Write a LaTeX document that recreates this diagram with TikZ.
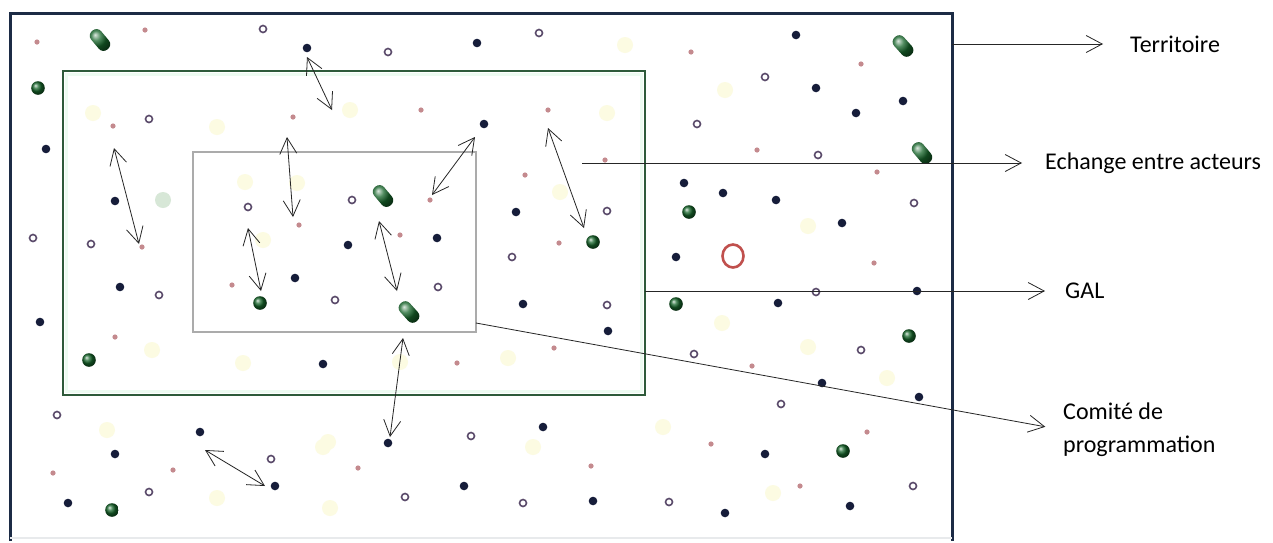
\documentclass[tikz,border=0pt]{standalone}
\usepackage{fontspec}
\setmainfont{Carlito}
\usepackage{xcolor}
\usepackage{tikz}
\usetikzlibrary{arrows.meta,positioning}
\definecolor{terr}{HTML}{1C2B45}
\definecolor{galgreen}{HTML}{2E5A3A}
\definecolor{galmint}{HTML}{EDFBF1}
\definecolor{comgray}{HTML}{ABABAB}
\definecolor{navy}{HTML}{161D3A}
\definecolor{hollowc}{HTML}{5A4A6A}
\definecolor{pinkd}{HTML}{C48A8E}
\definecolor{blobY}{HTML}{FCFBE2}
\definecolor{redring}{HTML}{C0504D}
\definecolor{greenb}{HTML}{17662B}

\begin{document}
\begin{tikzpicture}[x=1pt,y=-1pt,
  lbl/.style={anchor=west,inner sep=0pt,font=\fontsize{24}{33}\selectfont,align=left},
  conn/.style={draw=black!85,line width=0.8pt,{Straight Barb[length=16pt,width=17pt]}-{Straight Barb[length=16pt,width=17pt]}},
  lead/.style={draw=black!85,line width=0.8pt,-{Straight Barb[length=16pt,width=17pt]}}]
\useasboundingbox[fill=white] (0,0) rectangle (1273,542);
\foreach \x/\y in {93/113,217/127,245/182,297/183,263/240,350/110,607/113,625/45,560/192,725/90,808/226,152/350,243/363,107/430,217/498,323/447,508/358,400/362,328/442,330/508,533/447,663/427,722/323,808/347,887/378,773/493}
  \fill[blobY] (\x,\y) circle[radius=8pt];
\fill[green!25!gray!25] (163,200) circle[radius=8pt];
\draw[terr,line width=3pt] (10,541) -- (10,13) -- (952,13) -- (952,541);
\draw[terr!10,line width=2pt] (10,538) -- (952,538);
\draw[galmint,line width=3pt] (66.5,74.5) rectangle (641.5,391.5);
\draw[galgreen,line width=2.2pt] (63,71) rectangle (645,395);
\draw[comgray,line width=1.5pt] (193,152) rectangle (476,332);
\coordinate (cTerr) at (952,44);
\coordinate (cEch) at (582,163);
\coordinate (cGal) at (645,291);
\coordinate (cCom) at (476,323);
\foreach \x/\y in {307/48,477/43,796/35,46/149,484/124,816/88,903/101,856/113,115/201,684/183,723/193,776/200,516/212,348/245,437/238,842/223,676/257,120/287,295/278,40/322,523/304,608/331,778/303,917/291,323/364,822/383,919/397,200/432,388/443,543/427,115/454,275/486,464/486,593/501,68/503,765/454,725/513,850/506}
  \fill[navy] (\x,\y) circle[radius=4.3pt];
\foreach \x/\y in {263/29,539/33,388/52,149/119,765/77,697/124,818/155,248/207,352/200,607/211,914/203,33/238,91/244,512/257,159/295,335/300,438/287,607/305,816/292,694/354,861/350,781/404,57/415,271/459,471/436,149/492,405/497,523/503,669/502,913/486}
  \draw[hollowc,line width=1.6pt] (\x,\y) circle[radius=3.5pt];
\foreach \x/\y in {37/42,145/30,691/52,861/64,113/126,293/117,421/110,548/110,605/160,525/175,757/150,877/172,299/225,142/247,430/200,400/235,559/243,874/263,232/285,115/337,457/363,554/348,752/366,173/470,53/473,358/468,591/466,711/444,867/432,800/486}
  \fill[pinkd] (\x,\y) circle[radius=2.6pt];
\foreach \x/\y in {38/88,593/242,689/212,260/303,89/360,676/304,909/336,843/451,112/510}
  \shade[ball color=greenb] (\x,\y) circle[radius=6.8pt];
\foreach \x/\y/\a in {100/40/-50,383/196/-50,409/312/-48,903/46/-48,922/153/-50}
  \shade[ball color=greenb,rounded corners=6pt,rotate around={\a:(\x,\y)}] (\x-12,\y-6.5) rectangle (\x+12,\y+6.5);
\draw[redring,line width=2.6pt] (733,256) ellipse[x radius=10.5pt,y radius=11.5pt];
\foreach \i/\xa/\ya/\xb/\yb in {1/307/57/332/110,2/114/148/139/244,3/287/137/293/217,4/248/228/261/291,5/475/137/432/195,6/548/128/584/228,7/379/221/397/291,8/403/338/390/437,9/205/450/265/486}{
  \coordinate (s\i) at (\xa,\ya);
  \coordinate (t\i) at (\xb,\yb);
  \draw[conn] (s\i) -- (t\i);
}
\node[lbl] (lTerr) at (1130,44) {Territoire};
\node[lbl] (lEch) at (1045,163) {Echange entre acteurs};
\node[lbl] (lGal) at (1065,291) {GAL};
\node[lbl] (lCom) at (1063,430) {Comité de\\programmation};
\draw[lead,shorten >=27pt] (cTerr) -- (lTerr.west);
\draw[lead,shorten >=23pt] (cEch) -- (lEch.west);
\draw[lead,shorten >=20pt] (cGal) -- (lGal.west);
\draw[lead,shorten >=18pt] (cCom) -- (lCom.west);
\end{tikzpicture}
\end{document}
